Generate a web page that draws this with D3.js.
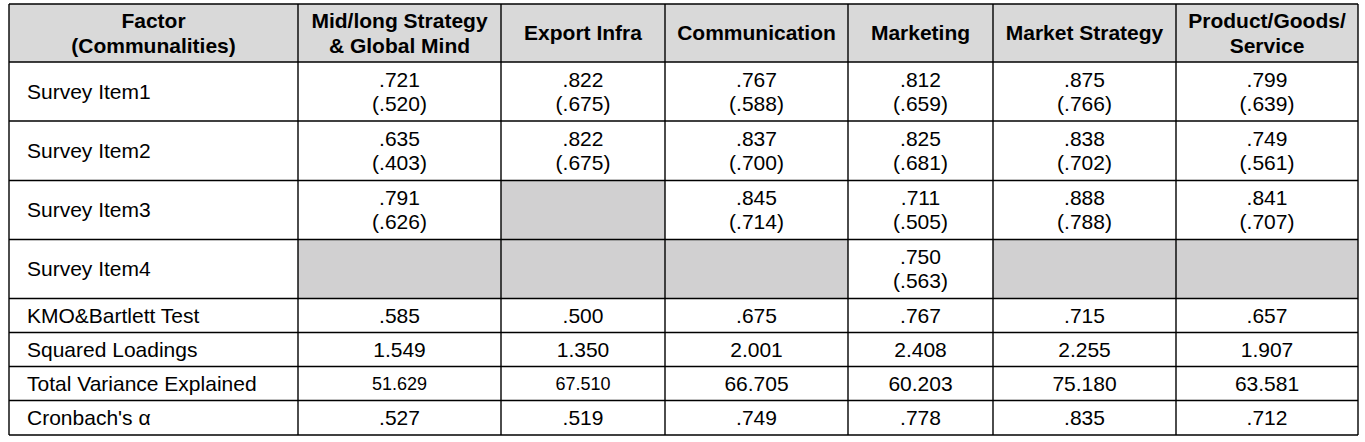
<!DOCTYPE html>
<html><head><meta charset="utf-8">
<script src="https://cdn.jsdelivr.net/npm/d3@7"></script>
<style>html,body{margin:0;padding:0;background:#fff;}svg{display:block;}</style>
</head><body>
<svg id="chart" width="1365" height="442"></svg>
<script>
// ---- data ----
const headerLabel = ["Factor", "(Communalities)"];
const factors = [
  ["Mid/long Strategy", "& Global Mind"],
  ["Export Infra"],
  ["Communication"],
  ["Marketing"],
  ["Market Strategy"],
  ["Product/Goods/", "Service"]
];
const itemRows = ["Survey Item1", "Survey Item2", "Survey Item3", "Survey Item4"];
const loadings = [
  [0.721, 0.822, 0.767, 0.812, 0.875, 0.799],
  [0.635, 0.822, 0.837, 0.825, 0.838, 0.749],
  [0.791, null, 0.845, 0.711, 0.888, 0.841],
  [null, null, null, 0.750, null, null]
];
const communalities = [
  [0.520, 0.675, 0.588, 0.659, 0.766, 0.639],
  [0.403, 0.675, 0.700, 0.681, 0.702, 0.561],
  [0.626, null, 0.714, 0.505, 0.788, 0.707],
  [null, null, null, 0.563, null, null]
];
const statRows = ["KMO&Bartlett Test", "Squared Loadings", "Total Variance Explained", "Cronbach's α"];
const kmo = [0.585, 0.500, 0.675, 0.767, 0.715, 0.657];
const squaredLoadings = [1.549, 1.350, 2.001, 2.408, 2.255, 1.907];
const varianceExplained = [51.629, 67.510, 66.705, 60.203, 75.180, 63.581];
const cronbachAlpha = [0.527, 0.519, 0.749, 0.778, 0.835, 0.712];

// ---- layout ----
const colEdges = [9, 298, 501, 665, 848, 993, 1176, 1358];
const rowEdges = [4, 62, 121, 180.5, 239.5, 298.5, 332.5, 366.5, 400.5, 435];
const FS = 21;
const font = "'Liberation Sans', Arial, Helvetica, sans-serif";

const svg = d3.select("#chart");
const cols = d3.range(colEdges.length - 1);
const rows = d3.range(rowEdges.length - 1);
const x0 = d3.scaleOrdinal(cols, colEdges.slice(0, -1));
const x1 = d3.scaleOrdinal(cols, colEdges.slice(1));
const y0 = d3.scaleOrdinal(rows, rowEdges.slice(0, -1));
const y1 = d3.scaleOrdinal(rows, rowEdges.slice(1));
const cx = c => (x0(c) + x1(c)) / 2;
const cy = r => (y0(r) + y1(r)) / 2;

const f3 = v => d3.format(".3f")(v).replace(/^0/, "");
const fVar = d3.format(".3f");

// header background
svg.append("rect").attr("x", colEdges[0]).attr("y", rowEdges[0])
  .attr("width", colEdges[colEdges.length-1] - colEdges[0])
  .attr("height", rowEdges[1] - rowEdges[0]).attr("fill", "#d9d9d9");

// empty (gray) cells
const empties = [];
loadings.forEach((row, i) => row.forEach((v, j) => { if (v === null) empties.push({r: i + 1, c: j + 1}); }));
svg.selectAll("rect.empty").data(empties).join("rect").attr("class", "empty")
  .attr("x", d => x0(d.c)).attr("y", d => y0(d.r))
  .attr("width", d => x1(d.c) - x0(d.c)).attr("height", d => y1(d.r) - y0(d.r))
  .attr("fill", "#d1d0d1");

// texts
const g = svg.append("g").attr("font-family", font).attr("fill", "#000");

function multiline(lines, x, yc, spacing, anchor, weight, size) {
  const n = lines.length;
  lines.forEach((t, k) => {
    g.append("text").attr("x", x).attr("y", yc + (k - (n - 1) / 2) * spacing)
      .attr("dy", "0.35em").attr("text-anchor", anchor)
      .attr("font-weight", weight).attr("font-size", size).text(t);
  });
}

// header
multiline(headerLabel, cx(0), cy(0), 25, "middle", "bold", FS);
factors.forEach((lines, j) => multiline(lines, cx(j + 1), cy(0), 25, "middle", "bold", FS));

// item rows
itemRows.forEach((lab, i) => {
  multiline([lab], 27, cy(i + 1), 24, "start", "normal", FS);
  loadings[i].forEach((v, j) => {
    if (v === null) return;
    multiline([f3(v), "(" + f3(communalities[i][j]) + ")"], cx(j + 1), cy(i + 1), 24, "middle", "normal", FS);
  });
});

// stat rows
const statData = [kmo.map(f3), squaredLoadings.map(fVar), varianceExplained.map(fVar), cronbachAlpha.map(f3)];
statRows.forEach((lab, k) => {
  const r = itemRows.length + 1 + k;
  multiline([lab], 27, cy(r), 24, "start", "normal", FS);
  statData[k].forEach((t, j) => {
    const size = (k === 2 && j < 2) ? 18 : FS;
    multiline([t], cx(j + 1), cy(r), 24, "middle", "normal", size);
  });
});

// borders
const lines = svg.append("g").attr("stroke", "#000").attr("stroke-width", 1.4);
lines.selectAll("line.h").data(rowEdges).join("line").attr("class", "h")
  .attr("x1", colEdges[0]).attr("x2", colEdges[colEdges.length-1])
  .attr("y1", d => d).attr("y2", d => d);
lines.selectAll("line.v").data(colEdges).join("line").attr("class", "v")
  .attr("x1", d => d).attr("x2", d => d)
  .attr("y1", rowEdges[0]).attr("y2", rowEdges[rowEdges.length-1]);
</script>
</body></html>
